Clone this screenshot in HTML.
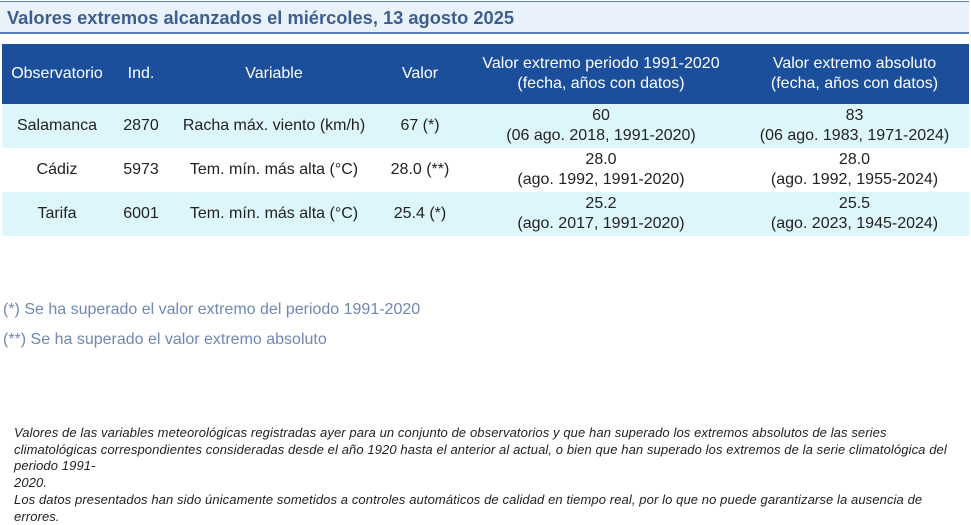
<!DOCTYPE html>
<html><head><meta charset="utf-8"><style>
body{margin:0;width:971px;height:507px;background:#fff;font-family:"Liberation Sans",sans-serif;position:relative;overflow:hidden}
.title{position:absolute;left:0;top:1px;width:969px;height:30px;background:#e9f1fb;border-top:1px solid #5a7fb5;border-bottom:2px solid #5a7fb5;}
.title span{position:absolute;left:7px;top:5px;font-size:18.3px;font-weight:bold;color:#3e5f8e}
table{position:absolute;left:2px;top:44px;border-collapse:collapse;table-layout:fixed;width:967px;font-size:16px;color:#222}
th{background:#1b4f9b;color:#fff;font-weight:normal;height:60px;text-align:center;padding:0;line-height:20px}
td{height:44px;text-align:center;padding:0;line-height:20px}
tr.c td{background:#dcf6fc}
.note{position:absolute;left:3px;font-size:16px;color:#6f88b2}
.foot{position:absolute;left:14px;top:425px;width:950px;font-size:13px;letter-spacing:0.1px;font-style:italic;color:#222;line-height:16.7px}
</style></head><body>
<div class="title"><span>Valores extremos alcanzados el miércoles, 13 agosto 2025</span></div>
<table>
<colgroup><col style="width:110px"><col style="width:58px"><col style="width:208px"><col style="width:84px"><col style="width:278px"><col style="width:229px"></colgroup>
<tr><th>Observatorio</th><th>Ind.</th><th>Variable</th><th>Valor</th><th>Valor extremo periodo 1991-2020<br>(fecha, años con datos)</th><th>Valor extremo absoluto<br>(fecha, años con datos)</th></tr>
<tr class="c"><td>Salamanca</td><td>2870</td><td>Racha máx. viento (km/h)</td><td>67 (*)</td><td>60<br>(06 ago. 2018, 1991-2020)</td><td>83<br>(06 ago. 1983, 1971-2024)</td></tr>
<tr><td>Cádiz</td><td>5973</td><td>Tem. mín. más alta (°C)</td><td>28.0 (**)</td><td>28.0<br>(ago. 1992, 1991-2020)</td><td>28.0<br>(ago. 1992, 1955-2024)</td></tr>
<tr class="c"><td>Tarifa</td><td>6001</td><td>Tem. mín. más alta (°C)</td><td>25.4 (*)</td><td>25.2<br>(ago. 2017, 1991-2020)</td><td>25.5<br>(ago. 2023, 1945-2024)</td></tr>
</table>
<div class="note" style="top:301px">(*) Se ha superado el valor extremo del periodo 1991-2020</div>
<div class="note" style="top:331px">(**) Se ha superado el valor extremo absoluto</div>
<div class="foot">Valores de las variables meteorológicas registradas ayer para un conjunto de observatorios y que han superado los extremos absolutos de las series climatológicas correspondientes consideradas desde el año 1920 hasta el anterior al actual, o bien que han superado los extremos de la serie climatológica del periodo 1991-<br>2020.<br>Los datos presentados han sido únicamente sometidos a controles automáticos de calidad en tiempo real, por lo que no puede garantizarse la ausencia de errores.</div>
</body></html>
